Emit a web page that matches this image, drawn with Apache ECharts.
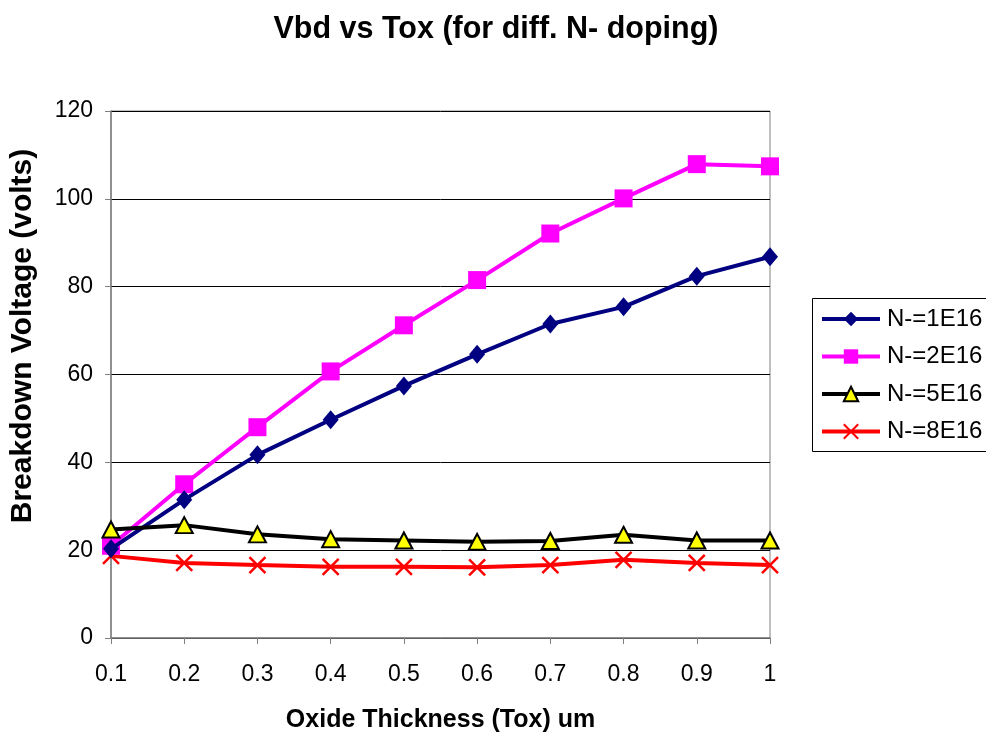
<!DOCTYPE html>
<html>
<head>
<meta charset="utf-8">
<script src="https://cdn.jsdelivr.net/npm/echarts@6/dist/echarts.min.js"></script>
<style>
  html, body { margin: 0; padding: 0; background: #fff; }
  #chart { width: 986px; height: 733px; }
</style>
</head>
<body>
<div id="chart"></div>
<script>
// Oxide thickness (um) on the x axis
const thickness = ['0.1', '0.2', '0.3', '0.4', '0.5', '0.6', '0.7', '0.8', '0.9', '1'];

// Breakdown voltage (volts) per N- doping level
const n1e16 = [20.3, 31.5, 41.7, 49.7, 57.4, 64.6, 71.5, 75.4, 82.4, 86.8];
const n2e16 = [21.0, 35.0, 48.0, 60.7, 71.2, 81.5, 92.1, 100.1, 107.9, 107.4];
const n5e16 = [24.7, 25.7, 23.6, 22.5, 22.2, 21.9, 22.1, 23.5, 22.2, 22.2];
const n8e16 = [18.7, 17.1, 16.6, 16.2, 16.2, 16.1, 16.6, 17.8, 17.1, 16.6];

const seriesNames = ['N-=1E16', 'N-=2E16', 'N-=5E16', 'N-=8E16'];

const FONT = 'Liberation Sans, Arial, sans-serif';
const crossPath = 'path://M0,0L10,10M10,0L0,10';

const chart = echarts.init(document.getElementById('chart'));
chart.setOption({
  animation: false,
  backgroundColor: '#fff',
  title: {
    text: 'Vbd vs Tox (for diff. N- doping)',
    left: 491, top: 9, textAlign: 'center',
    textStyle: { fontFamily: FONT, fontSize: 30.5, fontWeight: 'bold', color: '#000' }
  },
  grid: {
    left: 111, top: 111, width: 659, height: 527,
    outerBoundsMode: 'none',
    containLabel: false,
    show: true, borderColor: '#808080', borderWidth: 1, backgroundColor: 'transparent'
  },
  // legend frame runs off the right edge of the canvas
  graphic: [{
    type: 'rect', left: 812, top: 298, z: 0, silent: true,
    shape: { width: 200, height: 153 },
    style: { fill: '#fff', stroke: '#000', lineWidth: 1 }
  }],
  legend: {
    orient: 'vertical',
    left: 812, top: 299,
    itemWidth: 58, itemHeight: 18, itemGap: 13.5,
    padding: [8, 0, 9, 8],
    z: 5,
    lineStyle: { width: 4 },
    textStyle: { fontFamily: FONT, fontSize: 24, lineHeight: 24, color: '#000', padding: [0, 0, 0, 2] },
    data: seriesNames
  },
  xAxis: {
    type: 'category',
    data: thickness,
    boundaryGap: false,
    name: 'Oxide Thickness (Tox) um',
    nameLocation: 'middle', nameGap: 70,
    nameTextStyle: { fontFamily: FONT, fontSize: 25, fontWeight: 'bold', color: '#000' },
    axisLine: { lineStyle: { color: '#808080', width: 1.5 } },
    axisTick: { show: true, length: 6, alignWithLabel: true, lineStyle: { color: '#808080' } },
    axisLabel: { fontFamily: FONT, fontSize: 23, color: '#000', margin: 25 },
    splitLine: { show: false }
  },
  yAxis: {
    type: 'value',
    min: 0, max: 120, interval: 20,
    name: 'Breakdown Voltage (volts)',
    nameLocation: 'middle', nameGap: 73,
    nameTextStyle: {
      fontFamily: FONT, fontSize: 30, fontWeight: 'bold', color: '#000',
      padding: [0, 0, 0, 77]
    },
    axisLine: { show: true, lineStyle: { color: '#808080', width: 1.5 } },
    axisTick: { show: true, length: 6, lineStyle: { color: '#808080' } },
    axisLabel: { fontFamily: FONT, fontSize: 23, color: '#000', margin: 18 },
    splitLine: { show: true, lineStyle: { color: '#000', width: 1 } }
  },
  series: [
    {
      name: seriesNames[0], type: 'line', data: n1e16,
      symbol: 'diamond', symbolSize: [16, 19],
      lineStyle: { color: '#000080', width: 4 },
      itemStyle: { color: '#000080', borderWidth: 0 },
      z: 3
    },
    {
      name: seriesNames[1], type: 'line', data: n2e16,
      symbol: 'rect', symbolSize: 18,
      lineStyle: { color: '#ff00ff', width: 4 },
      itemStyle: { color: '#ff00ff', borderWidth: 0 },
      z: 2
    },
    {
      name: seriesNames[2], type: 'line', data: n5e16,
      symbol: 'triangle', symbolSize: [17, 16],
      lineStyle: { color: '#000', width: 4 },
      itemStyle: { color: '#ffff00', borderColor: '#000', borderWidth: 2 },
      z: 4
    },
    {
      name: seriesNames[3], type: 'line', data: n8e16,
      symbol: crossPath, symbolSize: 16,
      lineStyle: { color: '#ff0000', width: 4 },
      itemStyle: { color: '#ff0000', borderColor: '#ff0000', borderWidth: 2.5 },
      z: 1
    }
  ]
});
</script>
</body>
</html>
